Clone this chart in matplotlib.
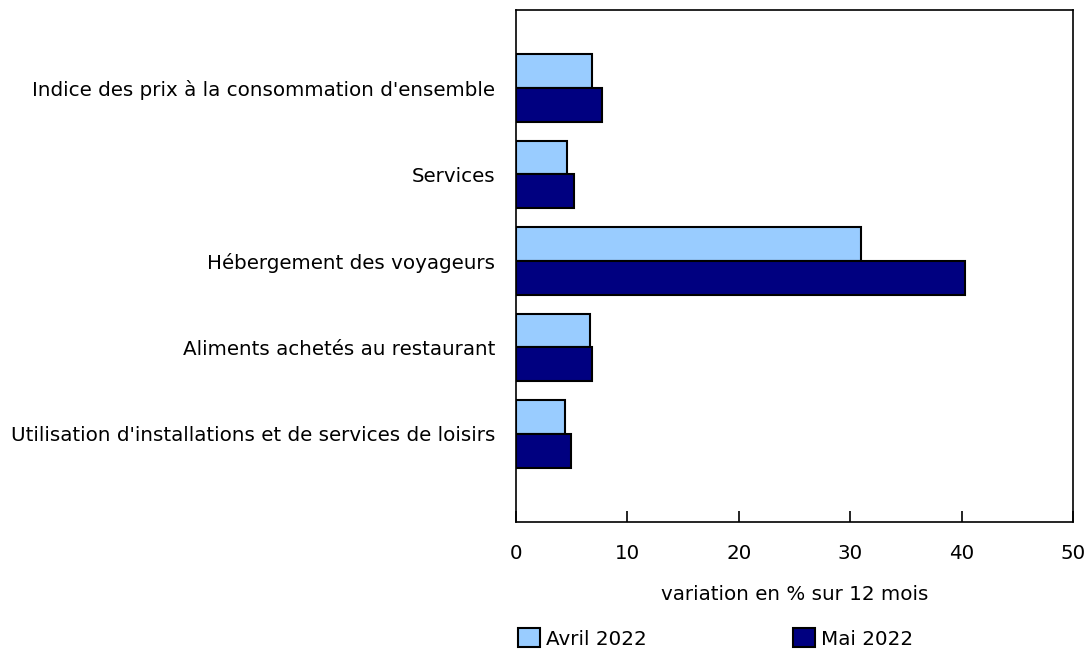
import numpy as np
import matplotlib
matplotlib.use("Agg")
import matplotlib.pyplot as plt

categories = ["Indice des prix à la consommation d'ensemble",
              "Services",
              "Hébergement des voyageurs",
              "Aliments achetés au restaurant",
              "Utilisation d'installations et de services de loisirs"]
avril = [6.8, 4.6, 31.0, 6.6, 4.4]
mai = [7.7, 5.2, 40.3, 6.8, 4.9]
series_names = ["Avril 2022", "Mai 2022"]
colors = ["#99ccff", "#000080"]

plt.rcParams['font.family'] = ['DejaVu Sans']
fs = 14.3
fig = plt.figure(figsize=(10.88, 6.5), dpi=100)
ax = fig.add_axes([516/1088, 1-522/650, 557/1088, 512/650])

y = np.arange(len(categories))
h = 0.39
ax.barh(y - h/2, avril, height=h, color=colors[0], edgecolor='black', linewidth=1.5, label=series_names[0])
ax.barh(y + h/2, mai, height=h, color=colors[1], edgecolor='black', linewidth=1.5, label=series_names[1])

ax.set_xlim(0, 50)
ax.set_ylim(len(categories) - 1 + 1.02, -0.9)
ax.set_yticks(y)
ax.set_yticklabels(categories, fontsize=fs)
ax.tick_params(axis='y', length=0, pad=15)
ax.set_xticks([0, 10, 20, 30, 40, 50])
ax.tick_params(axis='x', direction='in', length=8, width=1.2, labelsize=fs, pad=16)
for s in ax.spines.values():
    s.set_linewidth(1.2)
ax.set_xlabel("variation en % sur 12 mois", fontsize=fs, labelpad=16)

fig.legend(loc='lower left', bbox_to_anchor=(510/1088, -0.01), ncol=2, frameon=False,
           fontsize=fs, handlelength=1.1, handleheight=1.1, handletextpad=0.3,
           columnspacing=7.4, borderaxespad=0.0)

fig.savefig("out.png", dpi=100)
